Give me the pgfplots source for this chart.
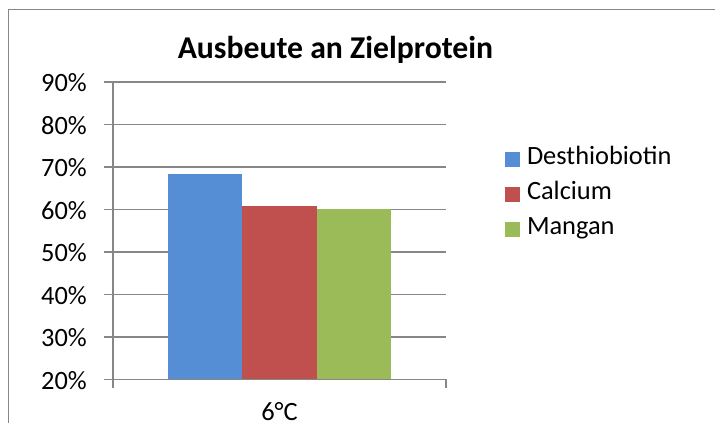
\documentclass[border=0pt]{standalone}
\usepackage{fontspec}
\setmainfont{Carlito}
\usepackage{pgfplots}
\pgfplotsset{compat=1.18}
\definecolor{cBlue}{HTML}{558ED5}
\definecolor{cRed}{HTML}{C0504D}
\definecolor{cGreen}{HTML}{9BBB59}
\definecolor{cGrid}{HTML}{878787}
\newcommand{\lblfont}{\fontsize{26.4}{30}\selectfont}
\begin{document}
\begin{tikzpicture}
\useasboundingbox (0pt,0pt) rectangle (715pt,423pt);
\draw[cGrid, line width=1pt, line cap=butt] (8pt,0pt) -- (8pt,413pt) -- (715pt,413pt);
\begin{axis}[
  at={(113pt,43.6pt)}, anchor=south west,
  scale only axis, width=333pt, height=297.6pt,
  ymin=20, ymax=90, xmin=-0.5, xmax=0.5,
  ybar=0pt, bar width=74.5pt,
  axis lines*=left,
  axis line style={cGrid, line width=1.5pt, -},
  ymajorgrids, grid style={cGrid, line width=1.5pt},
  tick style={cGrid, line width=1.5pt},
  tick align=outside, major tick length=9pt,
  ytick={20,30,40,50,60,70,80,90},
  yticklabels={20\%,30\%,40\%,50\%,60\%,70\%,80\%,90\%},
  yticklabel style={anchor=east, inner sep=0pt, xshift=-17pt, yshift=-1pt, font=\lblfont},
  xtick={-0.5,0.5}, xticklabels={,},
  xlabel={6°C},
  xlabel style={at={(axis description cs:0.5,0)}, anchor=base, yshift=-41pt, inner sep=0pt, text depth=0pt, font=\lblfont},
  title={\bfseries Ausbeute an Zielprotein},
  title style={at={(axis description cs:0.668,1)}, anchor=base, yshift=17pt, inner sep=0pt, font=\fontsize{31.7}{36}\selectfont},
  /pgf/number format/assume math mode=true,
  legend style={at={(axis description cs:1.1772,0.7776)}, anchor=north west, draw=none, fill=none, inner sep=0pt, outer sep=0pt,
    nodes={inner sep=0pt, text height=17pt, text depth=6pt}, row sep=12pt, font=\lblfont,
    /tikz/every odd column/.style={column sep=7pt}},
  legend cell align=left,
  legend image code/.code={\fill[#1] (0pt,-7.5pt) rectangle (15pt,7.5pt);},
]
\addplot[fill=cBlue, draw=none] coordinates {(0,68.3)};
\addplot[fill=cRed, draw=none] coordinates {(0,60.7)};
\addplot[fill=cGreen, draw=none] coordinates {(0,60.0)};
\legend{Desthiobiotin,Calcium,Mangan}
\end{axis}
\end{tikzpicture}
\end{document}
